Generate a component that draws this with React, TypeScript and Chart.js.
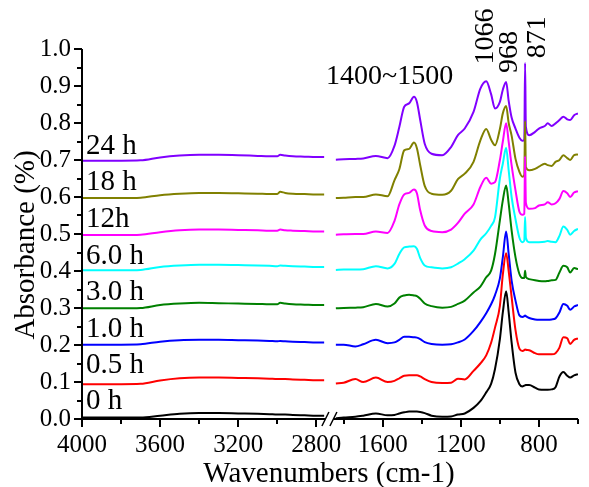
import React, { useEffect, useRef } from 'react';
import { Chart, registerables } from 'chart.js';

Chart.register(...registerables);

// ---------- data ----------
// Wavenumbers (cm-1) of the left (high) segment and the right (low) segment of the broken axis
const WAVE_LEFT = [4000, 3900, 3800, 3700, 3600, 3500, 3400, 3300, 3200, 3100, 3040, 3000, 2985, 2960, 2920, 2860, 2800, 2760];
const WAVE_RIGHT = [1840, 1800, 1740, 1700, 1635, 1575, 1540, 1515, 1490, 1465, 1440, 1425, 1408, 1385, 1350, 1295, 1250, 1215, 1180, 1135, 1100, 1070, 1045, 1025, 1000, 985, 968, 955, 940, 920, 900, 885, 875, 871, 867, 850, 820, 800, 770, 755, 735, 715, 695, 675, 655, 640, 620, 600];

const SERIES_NAMES = ['0 h', '0.5 h', '1.0 h', '3.0 h', '6.0 h', '12h', '18 h', '24 h'];
const SERIES_COLORS = ['#000000', '#ff0000', '#0000ff', '#008000', '#00ffff', '#ff00ff', '#808000', '#8000ff'];
const LABEL_VALUES = [0.028, 0.124, 0.221, 0.321, 0.420, 0.519, 0.618, 0.717];

const ABS_0H_L = [0.004, 0.004, 0.004, 0.004, 0.009, 0.014, 0.016, 0.016, 0.015, 0.014, 0.013, 0.012, 0.012, 0.012, 0.011, 0.010, 0.009, 0.009];
const ABS_0H_R = [0.002, 0.004, 0.006, 0.009, 0.015, 0.010, 0.011, 0.015, 0.018, 0.020, 0.020, 0.020, 0.019, 0.016, 0.009, 0.006, 0.007, 0.012, 0.015, 0.030, 0.048, 0.072, 0.095, 0.135, 0.216, 0.288, 0.345, 0.288, 0.207, 0.125, 0.094, 0.088, 0.090, 0.091, 0.092, 0.092, 0.085, 0.080, 0.079, 0.079, 0.080, 0.086, 0.115, 0.127, 0.117, 0.112, 0.118, 0.121];

const ABS_05H_L = [0.094, 0.094, 0.094, 0.095, 0.104, 0.110, 0.112, 0.112, 0.111, 0.110, 0.109, 0.108, 0.108, 0.108, 0.107, 0.106, 0.105, 0.105];
const ABS_05H_R = [0.096, 0.098, 0.108, 0.100, 0.112, 0.100, 0.103, 0.110, 0.117, 0.118, 0.118, 0.118, 0.115, 0.108, 0.100, 0.097, 0.098, 0.109, 0.107, 0.130, 0.150, 0.172, 0.206, 0.247, 0.306, 0.390, 0.448, 0.400, 0.330, 0.240, 0.190, 0.184, 0.186, 0.188, 0.187, 0.186, 0.178, 0.175, 0.175, 0.175, 0.175, 0.178, 0.193, 0.221, 0.218, 0.203, 0.214, 0.218];

const ABS_1H_L = [0.201, 0.201, 0.201, 0.202, 0.209, 0.213, 0.214, 0.214, 0.213, 0.212, 0.211, 0.210, 0.211, 0.210, 0.209, 0.208, 0.207, 0.207];
const ABS_1H_R = [0.201, 0.201, 0.196, 0.202, 0.214, 0.205, 0.207, 0.214, 0.222, 0.222, 0.221, 0.220, 0.216, 0.208, 0.203, 0.201, 0.202, 0.207, 0.215, 0.238, 0.262, 0.286, 0.310, 0.335, 0.380, 0.437, 0.507, 0.446, 0.374, 0.320, 0.280, 0.276, 0.278, 0.280, 0.278, 0.273, 0.269, 0.268, 0.268, 0.268, 0.269, 0.272, 0.288, 0.311, 0.306, 0.295, 0.304, 0.308];

const ABS_3H_L = [0.299, 0.299, 0.299, 0.300, 0.308, 0.312, 0.314, 0.313, 0.312, 0.311, 0.310, 0.310, 0.314, 0.312, 0.310, 0.309, 0.308, 0.308];
const ABS_3H_R = [0.299, 0.300, 0.301, 0.302, 0.311, 0.304, 0.312, 0.328, 0.334, 0.336, 0.334, 0.332, 0.325, 0.312, 0.305, 0.301, 0.303, 0.311, 0.320, 0.342, 0.358, 0.383, 0.401, 0.446, 0.537, 0.591, 0.631, 0.582, 0.510, 0.437, 0.392, 0.381, 0.381, 0.401, 0.384, 0.378, 0.375, 0.373, 0.372, 0.373, 0.375, 0.376, 0.396, 0.414, 0.410, 0.396, 0.408, 0.405];

const ABS_6H_L = [0.402, 0.402, 0.402, 0.403, 0.411, 0.415, 0.417, 0.417, 0.416, 0.415, 0.414, 0.413, 0.415, 0.414, 0.413, 0.412, 0.411, 0.411];
const ABS_6H_R = [0.403, 0.404, 0.404, 0.405, 0.413, 0.407, 0.419, 0.446, 0.464, 0.466, 0.467, 0.460, 0.435, 0.415, 0.410, 0.407, 0.410, 0.420, 0.432, 0.455, 0.485, 0.502, 0.522, 0.545, 0.650, 0.690, 0.733, 0.672, 0.600, 0.540, 0.490, 0.478, 0.482, 0.546, 0.490, 0.478, 0.478, 0.478, 0.479, 0.481, 0.479, 0.478, 0.495, 0.520, 0.511, 0.498, 0.508, 0.514];

const ABS_12H_L = [0.497, 0.497, 0.497, 0.498, 0.505, 0.510, 0.512, 0.512, 0.511, 0.510, 0.509, 0.509, 0.512, 0.510, 0.509, 0.508, 0.507, 0.507];
const ABS_12H_R = [0.498, 0.499, 0.500, 0.500, 0.507, 0.503, 0.535, 0.580, 0.607, 0.611, 0.620, 0.610, 0.564, 0.523, 0.508, 0.505, 0.512, 0.530, 0.555, 0.580, 0.627, 0.652, 0.636, 0.640, 0.700, 0.750, 0.799, 0.749, 0.686, 0.618, 0.560, 0.552, 0.555, 0.710, 0.585, 0.568, 0.570, 0.577, 0.580, 0.586, 0.580, 0.583, 0.595, 0.616, 0.610, 0.600, 0.612, 0.616];

const ABS_18H_L = [0.597, 0.597, 0.597, 0.598, 0.605, 0.609, 0.611, 0.611, 0.610, 0.609, 0.608, 0.608, 0.614, 0.611, 0.609, 0.608, 0.607, 0.607];
const ABS_18H_R = [0.597, 0.598, 0.600, 0.600, 0.607, 0.602, 0.645, 0.675, 0.726, 0.730, 0.747, 0.732, 0.686, 0.630, 0.609, 0.606, 0.617, 0.648, 0.663, 0.695, 0.753, 0.784, 0.755, 0.740, 0.784, 0.826, 0.846, 0.800, 0.766, 0.703, 0.668, 0.655, 0.660, 0.805, 0.681, 0.672, 0.676, 0.682, 0.690, 0.686, 0.684, 0.695, 0.700, 0.713, 0.705, 0.700, 0.713, 0.715];

const ABS_24H_L = [0.698, 0.698, 0.698, 0.699, 0.707, 0.712, 0.714, 0.714, 0.713, 0.711, 0.710, 0.710, 0.714, 0.712, 0.710, 0.709, 0.708, 0.708];
const ABS_24H_R = [0.701, 0.702, 0.703, 0.704, 0.711, 0.705, 0.738, 0.789, 0.844, 0.853, 0.871, 0.857, 0.808, 0.744, 0.717, 0.713, 0.735, 0.767, 0.785, 0.830, 0.893, 0.913, 0.878, 0.839, 0.857, 0.890, 0.911, 0.860, 0.815, 0.785, 0.760, 0.752, 0.755, 0.962, 0.790, 0.767, 0.776, 0.785, 0.792, 0.799, 0.792, 0.799, 0.808, 0.817, 0.810, 0.808, 0.821, 0.826];

const SERIES_LEFT = [ABS_0H_L, ABS_05H_L, ABS_1H_L, ABS_3H_L, ABS_6H_L, ABS_12H_L, ABS_18H_L, ABS_24H_L];
const SERIES_RIGHT = [ABS_0H_R, ABS_05H_R, ABS_1H_R, ABS_3H_R, ABS_6H_R, ABS_12H_R, ABS_18H_R, ABS_24H_R];

const X_TICKS = [4000, 3800, 3600, 3400, 3200, 3000, 2800, 1800, 1600, 1400, 1200, 1000, 800, 600];
const X_TICK_LABELED = [4000, 3600, 3200, 2800, 1600, 1200, 800];
const Y_TICKS = [0, 0.05, 0.1, 0.15, 0.2, 0.25, 0.3, 0.35, 0.4, 0.45, 0.5, 0.55, 0.6, 0.65, 0.7, 0.75, 0.8, 0.85, 0.9, 0.95, 1.0];

const ANNOTATIONS = [
  { text: '1400~1500', wave: 1565, value: 0.905, rotate: false },
  { text: '1066', wave: 1035, value: 0.958, rotate: true },
  { text: '968', wave: 912, value: 0.935, rotate: true },
  { text: '871', wave: 767, value: 0.975, rotate: true },
];

// ---------- broken axis mapping ----------
const BREAK_SHIFT = 860; // low segment is shifted up so the gap 2740..1860 is compressed
const BREAK_AXIS = 2733;
const LABEL_WAVE = 3980;
const toAxis = (w: number) => (w > 2300 ? w : w + BREAK_SHIFT);
const fromAxis = (v: number) => (v > 2700 ? v : v - BREAK_SHIFT);

const FONT = '"Liberation Serif", "Times New Roman", serif';

const decorPlugin = {
  id: 'decor',
  afterDatasetsDraw(chart: any) {
    const { ctx, chartArea, scales } = chart;
    const xs = scales.x;
    const ys = scales.y;
    const left = chartArea.left;
    const bottom = chartArea.bottom;
    const top = ys.getPixelForValue(1);
    const right = xs.getPixelForValue(toAxis(600));
    const bx = xs.getPixelForValue(BREAK_AXIS);
    ctx.save();
    ctx.strokeStyle = '#000';
    ctx.lineWidth = 2;
    ctx.lineCap = 'butt';
    // axes
    ctx.beginPath();
    ctx.moveTo(left, top);
    ctx.lineTo(left, bottom);
    ctx.moveTo(left - 1, bottom);
    ctx.lineTo(bx - 4, bottom);
    ctx.moveTo(bx + 4, bottom);
    ctx.lineTo(right, bottom);
    ctx.stroke();
    // break marks
    ctx.lineWidth = 1.5;
    ctx.beginPath();
    ctx.moveTo(bx - 7.5, bottom + 7);
    ctx.lineTo(bx - 0.5, bottom - 7);
    ctx.moveTo(bx + 0.5, bottom + 7);
    ctx.lineTo(bx + 7.5, bottom - 7);
    ctx.stroke();
    // ticks
    ctx.lineWidth = 2;
    ctx.beginPath();
    for (const w of X_TICKS) {
      const px = Math.round(xs.getPixelForValue(toAxis(w)));
      const len = X_TICK_LABELED.includes(w) ? 8 : 5;
      ctx.moveTo(px, bottom);
      ctx.lineTo(px, bottom + len);
    }
    for (const v of Y_TICKS) {
      const py = Math.round(ys.getPixelForValue(v));
      const major = Math.round(v * 100) % 10 === 0;
      const len = major ? 8 : 5;
      ctx.moveTo(left, py);
      ctx.lineTo(left - len, py);
    }
    ctx.stroke();

    ctx.fillStyle = '#000';
    // series labels
    ctx.font = `29px ${FONT}`;
    ctx.textAlign = 'left';
    ctx.textBaseline = 'alphabetic';
    SERIES_NAMES.forEach((name, i) => {
      ctx.fillText(name, xs.getPixelForValue(LABEL_WAVE), ys.getPixelForValue(LABEL_VALUES[i]));
    });
    // annotations
    ctx.font = `28px ${FONT}`;
    for (const a of ANNOTATIONS) {
      const px = xs.getPixelForValue(toAxis(a.wave));
      const py = ys.getPixelForValue(a.value);
      if (a.rotate) {
        ctx.save();
        ctx.translate(px, py);
        ctx.rotate(-Math.PI / 2);
        ctx.textAlign = 'left';
        ctx.fillText(a.text, 0, 0);
        ctx.restore();
      } else {
        ctx.textAlign = 'center';
        ctx.fillText(a.text, px, py);
      }
    }
    // axis titles
    ctx.font = `29px ${FONT}`;
    ctx.textAlign = 'center';
    ctx.fillText('Wavenumbers (cm-1)', 329, 482);
    ctx.save();
    ctx.translate(34, 245);
    ctx.rotate(-Math.PI / 2);
    ctx.fillText('Absorbance (%)', 0, 0);
    ctx.restore();
    ctx.restore();
  },
};

export default function App() {
  const canvasRef = useRef<HTMLCanvasElement | null>(null);

  useEffect(() => {
    const canvas = canvasRef.current;
    if (!canvas) return;
    const datasets = SERIES_NAMES.map((name, i) => {
      const pts: { x: number; y: number | null }[] = [];
      WAVE_LEFT.forEach((w, j) => pts.push({ x: toAxis(w), y: SERIES_LEFT[i][j] }));
      pts.push({ x: BREAK_AXIS, y: null });
      WAVE_RIGHT.forEach((w, j) => pts.push({ x: toAxis(w), y: SERIES_RIGHT[i][j] }));
      return {
        label: name,
        data: pts,
        borderColor: SERIES_COLORS[i],
        backgroundColor: SERIES_COLORS[i],
        borderWidth: 2,
        pointRadius: 0,
        fill: false,
        spanGaps: false,
        cubicInterpolationMode: 'monotone' as const,
      };
    });

    const chart = new Chart(canvas, {
      type: 'line',
      data: { datasets },
      plugins: [decorPlugin],
      options: {
        animation: false,
        responsive: false,
        maintainAspectRatio: false,
        events: [],
        layout: { padding: { top: 49, right: 1, left: 0, bottom: 0 } },
        plugins: { legend: { display: false }, tooltip: { enabled: false } },
        scales: {
          x: {
            type: 'linear',
            reverse: true,
            min: toAxis(600),
            max: 4000,
            grid: { display: false, drawTicks: false },
            border: { display: false },
            afterBuildTicks: (s: any) => {
              s.ticks = X_TICKS.map((w) => ({ value: toAxis(w) }));
            },
            afterFit: (s: any) => {
              s.height = 68;
            },
            ticks: {
              autoSkip: false,
              maxRotation: 0,
              minRotation: 0,
              padding: 11,
              color: '#000',
              font: { family: FONT, size: 25 },
              callback: (v: any) => {
                const w = Math.round(fromAxis(Number(v)));
                return X_TICK_LABELED.includes(w) ? String(w) : '';
              },
            },
          },
          y: {
            type: 'linear',
            min: 0,
            max: 1,
            grid: { display: false, drawTicks: false },
            border: { display: false },
            afterBuildTicks: (s: any) => {
              s.ticks = Y_TICKS.map((v) => ({ value: v }));
            },
            afterFit: (s: any) => {
              s.width = 82;
            },
            ticks: {
              autoSkip: false,
              padding: 11,
              color: '#000',
              font: { family: FONT, size: 25 },
              callback: (v: any) => {
                const n = Number(v);
                return Math.round(n * 100) % 10 === 0 ? n.toFixed(1) : '';
              },
            },
          },
        },
      } as any,
    });
    return () => chart.destroy();
  }, []);

  return (
    <div style={{ position: 'fixed', left: 0, top: 0, width: 589, height: 487, background: '#fff' }}>
      <canvas ref={canvasRef} width={589} height={487} style={{ width: 589, height: 487, display: 'block' }} />
    </div>
  );
}
